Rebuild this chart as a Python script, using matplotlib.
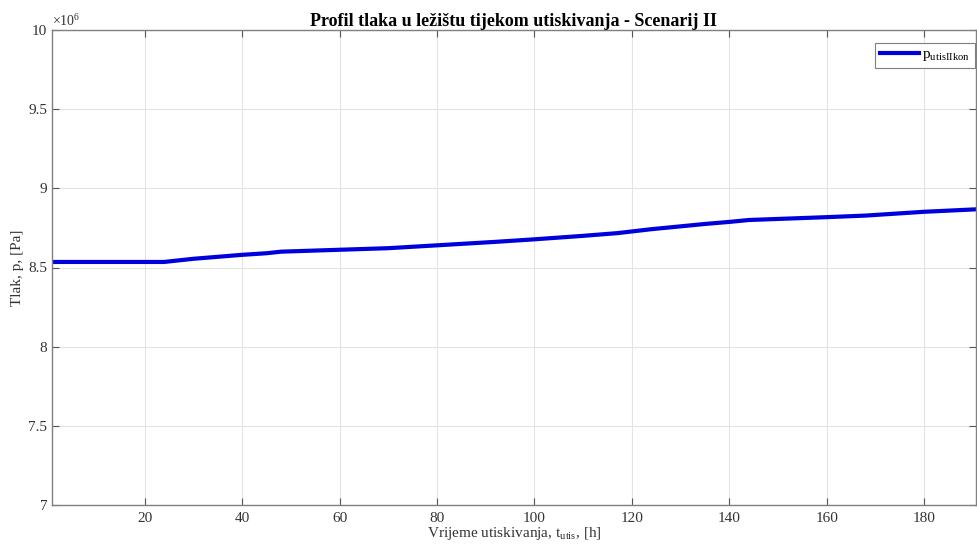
import matplotlib
matplotlib.use("Agg")
import matplotlib.pyplot as plt
from matplotlib.ticker import FuncFormatter

plt.rcParams['font.family'] = ['Liberation Serif', 'DejaVu Serif']
plt.rcParams['mathtext.fontset'] = 'custom'
plt.rcParams['mathtext.rm'] = 'Liberation Serif'
plt.rcParams['mathtext.it'] = 'Liberation Serif'

time_h = [1, 24, 30, 40, 45, 48, 60, 70, 80, 92, 100, 110, 117, 124, 135, 140, 144, 160, 168, 180, 191]
pressure_pa = [8.535e6, 8.535e6, 8.555e6, 8.58e6, 8.59e6, 8.60e6, 8.612e6, 8.622e6, 8.64e6, 8.662e6,
               8.678e6, 8.70e6, 8.717e6, 8.742e6, 8.775e6, 8.788e6, 8.80e6, 8.818e6, 8.828e6, 8.852e6, 8.868e6]
xticks = [20, 40, 60, 80, 100, 120, 140, 160, 180]
yticks = [7e6, 7.5e6, 8e6, 8.5e6, 9e6, 9.5e6, 10e6]

fig = plt.figure(figsize=(9.77, 5.49), dpi=100)
ax = fig.add_axes([52/977, 44/549, 924/977, 475/549])

ax.plot(time_h, pressure_pa, color='#0000dd', lw=3.0, label=r'$\mathregular{p_{utisIIkon}}$')

ax.set_xlim(1, 190.6)
ax.set_ylim(7e6, 10e6)
ax.set_xticks(xticks)
ax.set_yticks(yticks)
ax.yaxis.set_major_formatter(FuncFormatter(lambda v, p: '%g' % (v / 1e6)))
ax.text(0.0, 1.003, r'$\mathregular{\times10^{6}}$', transform=ax.transAxes, fontsize=10,
        color='#333333', ha='left', va='bottom')

ax.grid(True, color='#e3e3e3', lw=0.8)
ax.set_axisbelow(True)
for s in ax.spines.values():
    s.set_color('#808080')
    s.set_linewidth(1.0)
ax.tick_params(direction='in', length=5, width=0.8, color='#555555', labelcolor='#333333',
               labelsize=11, top=True, right=True)
ax.tick_params(axis='x', pad=5)

ax.set_title('Profil tlaka u ležištu tijekom utiskivanja - Scenarij II', fontsize=13,
             fontweight='bold', pad=3)
ax.set_xlabel(r'Vrijeme utiskivanja, t$\mathregular{_{utis}}$, [h]', fontsize=11, color='#333333', labelpad=0)
ax.set_ylabel('Tlak, p, [Pa]', fontsize=11, color='#333333', labelpad=3)

leg = ax.legend(loc='upper right', bbox_to_anchor=(975/977, 1 - 43/549), bbox_transform=fig.transFigure,
                fontsize=11, fancybox=False, edgecolor='#808080', framealpha=1,
                handlelength=2.6, handletextpad=0.2, borderaxespad=0, borderpad=0.3)
leg.get_frame().set_linewidth(0.8)

fig.savefig('out.png', dpi=100)
